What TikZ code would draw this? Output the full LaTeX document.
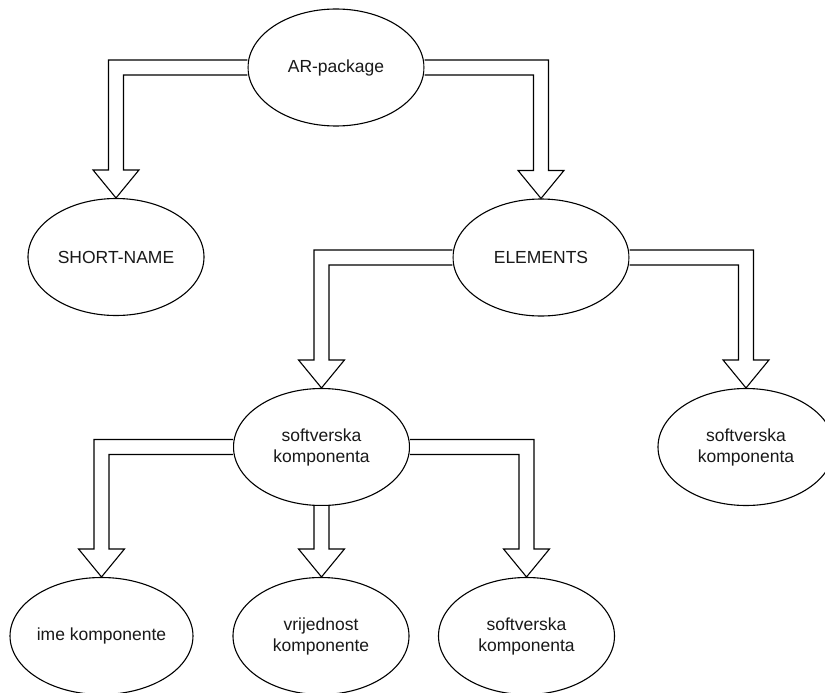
\documentclass[tikz,border=0pt]{standalone}
\usepackage{fontspec}
\setmainfont{Liberation Sans}
\usetikzlibrary{shapes.geometric,calc}
\tikzset{
  ell/.style={draw, ellipse, line width=1.1pt, minimum width=176pt, minimum height=117pt, inner sep=0pt,
    align=center, font=\fontsize{17.5}{21}\selectfont, text=black!90},
  arr/.style={draw, line width=1.1pt, fill=white, line join=miter}
}
% bent arrow: from west of #1 to north of #2 (target to the left)
\newcommand\flexLeft[2]{\draw[arr] let \p1=(#1.west), \p2=(#2.north) in
  (\x1,\y1+7.5pt) -- (\x2-7.5pt,\y1+7.5pt) -- (\x2-7.5pt,\y2+28pt) -- (\x2-23pt,\y2+28pt) -- (\x2,\y2)
  -- (\x2+23pt,\y2+28pt) -- (\x2+7.5pt,\y2+28pt) -- (\x2+7.5pt,\y1-7.5pt) -- (\x1,\y1-7.5pt);}
% bent arrow: from east of #1 to north of #2 (target to the right)
\newcommand\flexRight[2]{\draw[arr] let \p1=(#1.east), \p2=(#2.north) in
  (\x1,\y1+7.5pt) -- (\x2+7.5pt,\y1+7.5pt) -- (\x2+7.5pt,\y2+28pt) -- (\x2+23pt,\y2+28pt) -- (\x2,\y2)
  -- (\x2-23pt,\y2+28pt) -- (\x2-7.5pt,\y2+28pt) -- (\x2-7.5pt,\y1-7.5pt) -- (\x1,\y1-7.5pt);}
% straight arrow: from south of #1 to north of #2
\newcommand\flexDown[2]{\draw[arr] let \p1=(#1.south), \p2=(#2.north) in
  (\x1-7.5pt,\y1) -- (\x1-7.5pt,\y2+28pt) -- (\x1-23pt,\y2+28pt) -- (\x1,\y2)
  -- (\x1+23pt,\y2+28pt) -- (\x1+7.5pt,\y2+28pt) -- (\x1+7.5pt,\y1);}
\begin{document}
\begin{tikzpicture}[x=1pt,y=-1pt]
\clip (0,0) rectangle (825,693);
\fill[white] (0,0) rectangle (825,693);
\node[ell] (ar) at (336,67.5) {AR-package};
\node[ell] (sn) at (116,257) {SHORT-NAME};
\node[ell] (el) at (541,257.5) {ELEMENTS};
\node[ell] (sk) at (321.5,447) {softverska\\komponenta};
\node[ell] (skr) at (746,447) {softverska\\komponenta};
\node[ell] (ime) at (101.5,636) {ime komponente};
\node[ell] (vr) at (321,636) {vrijednost\\komponente};
\node[ell] (skb) at (526.5,636) {softverska\\komponenta};
\flexLeft{ar}{sn}
\flexRight{ar}{el}
\flexLeft{el}{sk}
\flexRight{el}{skr}
\flexLeft{sk}{ime}
\flexDown{sk}{vr}
\flexRight{sk}{skb}
\end{tikzpicture}
\end{document}
